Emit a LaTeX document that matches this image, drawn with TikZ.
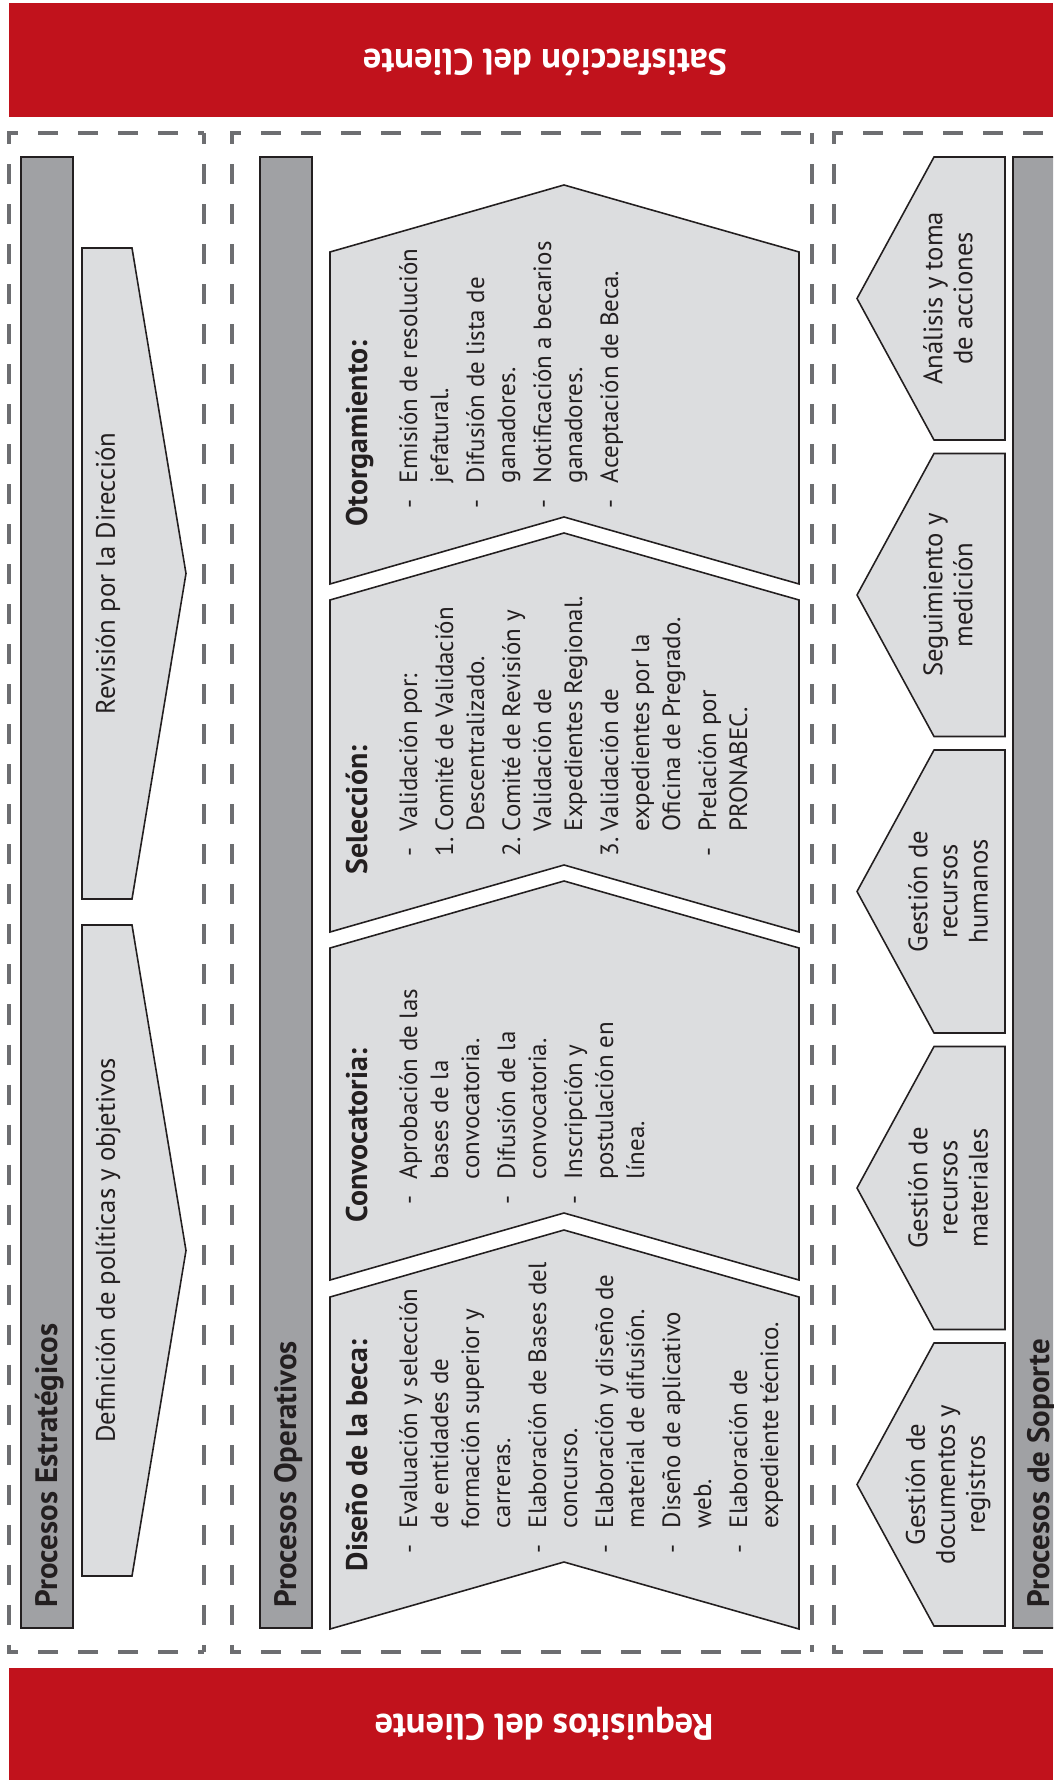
\documentclass[tikz,border=0pt]{standalone}
\usepackage{fontspec}
\setmainfont{PT Sans}
\usepackage{tikz}

\definecolor{clientred}{HTML}{C1121C}
\definecolor{bargray}{HTML}{A0A1A4}
\definecolor{piecegray}{HTML}{DCDDDF}
\definecolor{framegray}{HTML}{6D6E71}
\definecolor{edge}{HTML}{231F20}

\begin{document}
\begin{tikzpicture}[x=0.01cm, y=-0.01cm,
    dashframe/.style={draw=framegray, line width=0.04cm, dash pattern=on 0.2cm off 0.2cm, dash phase=0.09cm},
    procbar/.style={draw=edge, fill=bargray, line width=0.45pt},
    piece/.style={draw=edge, fill=piecegray, line width=0.45pt},
    vtext/.style={rotate=90, inner sep=0pt, text=edge},
    bartitle/.style={vtext, anchor=base west, font=\fontsize{8.8}{10}\selectfont\bfseries},
    head/.style={vtext, anchor=base west, font=\fontsize{8.5}{10}\selectfont\bfseries},
    steps/.style={vtext, anchor=base west, font=\fontsize{7.1}{8.82}\selectfont},
    arrowtext/.style={vtext, font=\fontsize{7.6}{9}\selectfont},
    support/.style={vtext, align=center, font=\fontsize{7.6}{8.54}\selectfont},
    clienttext/.style={rotate=180, inner sep=0pt, text=white, font=\fontsize{10.4}{12}\selectfont\bfseries}]
                \clip (0,0) rectangle (1053,1780);
                \fill[clientred] (9,3) rectangle (1053,117);
                \fill[clientred] (9,1668) rectangle (1053,1780);
                \node[clienttext] (satisf) at (545,62) {Satisfacción del Cliente};
                \node[clienttext] (requis) at (544,1724) {Requisitos del Cliente};
                \foreach \xa/\xb in {9/204, 232/812, 834/1090} {
                    \draw[dashframe] (\xa-2,133) -- (\xb,133);
                    \draw[dashframe] (\xa-2,1652) -- (\xb,1652);
                    \draw[dashframe] (\xa,133) -- (\xa,1652);
                    \draw[dashframe] (\xb,133) -- (\xb,1652);
                }
                \draw[procbar] (21,157) rectangle (73,1628);
                \draw[procbar] (260,157) rectangle (312,1628);
                \draw[procbar] (1013,157) rectangle (1065,1628);
                \node[bartitle] (estrat) at (57,1608) {Procesos Estratégicos};
                \node[bartitle] (operat) at (296,1608) {Procesos Operativos};
                \node[bartitle] (soport) at (1049,1608) {Procesos de Soporte};
                \foreach \ya in {248, 925} {
                    \draw[piece] (82,\ya) -- (132,\ya) -- (186,\ya+325.5) -- (132,\ya+651) -- (82,\ya+651) -- cycle;
                }
                \node[arrowtext] (revision) at (108,573.5) {Revisión por la Dirección};
                \node[arrowtext] (definicion) at (108,1250.5) {Definición de políticas y objetivos};
                \foreach \yt in {252, 600, 948, 1297} {
                    \draw[piece] (330,\yt) -- (564,\yt-67) -- (799,\yt) -- (799,\yt+332) -- (564,\yt+265) -- (330,\yt+332) -- cycle;
                }
                \node[head] (oto-h) at (367,527) {Otorgamiento:};
                \node[steps] (oto-l) at (417,509) {\begin{tabular}[t]{@{}p{0.25cm}@{}l@{}}
                    -&Emisión de resolución\\ &jefatural.\\[0.05cm]
                    -&Difusión de lista de\\ &ganadores.\\[0.05cm]
                    -&Notificación a becarios\\ &ganadores.\\[0.05cm]
                    -&Aceptación de Beca.
                \end{tabular}};
                \node[head] (sel-h) at (367,875) {Selección:};
                \node[steps] (sel-l) at (417,857) {\begin{tabular}[t]{@{}p{0.25cm}@{}l@{}}
                    -&Validación por:\\[0.05cm]
                    1.&Comité de Validación\\ &Descentralizado.\\[0.05cm]
                    2.&Comité de Revisión y\\ &Validación de\\ &Expedientes Regional.\\[0.05cm]
                    3.&Validación de\\ &expedientes por la\\ &Oficina de Pregrado.\\[0.05cm]
                    -&Prelación por\\ &PRONABEC.
                \end{tabular}};
                \node[head] (con-h) at (367,1223) {Convocatoria:};
                \node[steps] (con-l) at (417,1205) {\begin{tabular}[t]{@{}p{0.25cm}@{}l@{}}
                    -&Aprobación de las\\ &bases de la\\ &convocatoria.\\[0.05cm]
                    -&Difusión de la\\ &convocatoria.\\[0.05cm]
                    -&Inscripción y\\ &postulación en\\ &línea.
                \end{tabular}};
                \node[head] (dis-h) at (367,1572) {Diseño de la beca:};
                \node[steps] (dis-l) at (417,1554) {\begin{tabular}[t]{@{}p{0.25cm}@{}l@{}}
                    -&Evaluación y selección\\ &de entidades de\\ &formación superior y\\ &carreras.\\[0.05cm]
                    -&Elaboración de Bases del\\ &concurso.\\[0.05cm]
                    -&Elaboración y diseño de\\ &material de difusión.\\[0.05cm]
                    -&Diseño de aplicativo\\ &web.\\[0.05cm]
                    -&Elaboración de\\ &expediente técnico.
                \end{tabular}};
                \foreach \yt in {157, 453.5, 750, 1046.5, 1343} {
                    \draw[piece] (1005,\yt) -- (934,\yt) -- (857,\yt+141.5) -- (934,\yt+283) -- (1005,\yt+283) -- cycle;
                }
                \node[support] (analisis) at (948,298.5) {Análisis y toma\\de acciones};
                \node[support] (seguim) at (948,595) {Seguimiento y\\medición};
                \node[support] (rrhh) at (948,891.5) {Gestión de\\recursos\\humanos};
                \node[support] (rrmm) at (948,1188) {Gestión de\\recursos\\materiales};
                \node[support] (docum) at (948,1484.5) {Gestión de\\documentos y\\registros};
            \end{tikzpicture}
\end{document}
